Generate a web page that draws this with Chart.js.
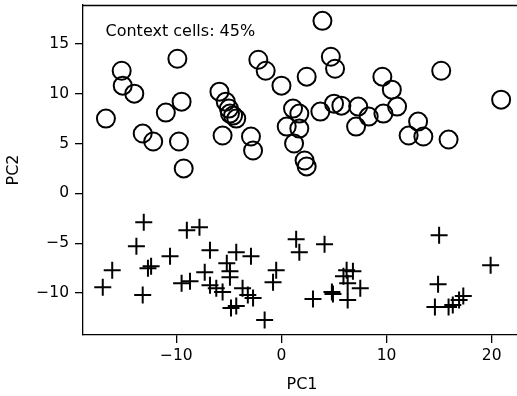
<!DOCTYPE html>
<html>
<head>
<meta charset="utf-8">
<script src="https://cdn.jsdelivr.net/npm/chart.js@4/dist/chart.umd.min.js"></script>
<style>
  html, body { margin: 0; padding: 0; background: #fff; overflow: hidden; }
  #wrap { width: 517px; height: 396px; overflow: hidden; }
</style>
</head>
<body>
<div id="wrap"><canvas id="pcaCanvas" width="522" height="396"></canvas></div>
<script>
// circles (upper cluster)
const circlePC1 = [-9.9, -15.2, -15.1, -14.0, -16.7, -13.2, -12.2, -11.0, -9.5, -9.75,
  -9.3, -5.9, -5.3, -5.0, -4.9, -4.6, -4.3, -5.6, -2.9, -2.7,
  -2.2, -1.5, 0.0, 1.1, 1.7, 0.5, 1.7, 1.2, 2.2, 2.4,
  2.4, 3.9, 4.7, 5.1, 15.2, 9.6, 10.5, 11.0, 20.9, 3.7,
  5.0, 5.7, 7.3, 8.3, 9.7, 7.1, 13.0, 12.1, 13.5, 15.9];
const circlePC2 = [13.5, 12.3, 10.8, 10.0, 7.5, 6.0, 5.2, 8.1, 9.2, 5.2,
  2.5, 10.2, 9.2, 8.5, 8.0, 7.8, 7.5, 5.8, 5.7, 4.3,
  13.4, 12.3, 10.8, 8.5, 8.0, 6.7, 6.5, 5.0, 3.3, 2.7,
  11.7, 17.3, 13.7, 12.5, 12.3, 11.7, 10.4, 8.7, 9.4, 8.2,
  9.0, 8.8, 8.7, 7.7, 8.0, 6.7, 7.2, 5.8, 5.7, 5.4];

// crosses (lower cluster)
const crossPC1 = [-13.1, -13.8, -16.1, -17.0, -13.2, -12.7, -12.4, -9.0, -7.8, -10.6,
  -6.8, -9.5, -8.7, -7.3, -6.8, -6.2, -5.6, -5.2, -4.9, -4.9,
  -4.3, -2.9, -3.7, -3.2, -2.7, -4.8, -4.3, -1.6, -0.5, -0.8,
  1.4, 1.7, 4.1, 3.0, 4.8, 4.9, 5.9, 6.2, 6.8, 6.3,
  6.3, 7.5, 15.0, 19.9, 14.9, 14.6, 15.9, 16.3, 16.9, 17.3];
const crossPC2 = [-2.9, -5.3, -7.7, -9.4, -10.2, -7.5, -7.3, -3.7, -3.4, -6.3,
  -5.7, -9.0, -8.8, -7.9, -9.2, -9.5, -9.9, -7.0, -7.8, -8.4,
  -5.9, -6.3, -9.5, -10.2, -10.5, -11.5, -11.3, -12.7, -7.7, -8.9,
  -4.6, -5.9, -5.1, -10.6, -9.9, -10.1, -8.3, -7.7, -7.8, -9.0,
  -10.7, -9.5, -4.2, -7.2, -9.1, -11.4, -11.4, -11.2, -10.7, -10.3];

const xTicks = [-10, 0, 10, 20];
const yTicks = [-10, -5, 0, 5, 10, 15];
const annotation = "Context cells: 45%";

function toPoints(xs, ys) {
  return xs.map((x, i) => ({ x: x, y: ys[i] }));
}

const minus = (v) => String(v).replace("-", "\u2212");

// no extra room for edge labels, the frame is placed by hand
function noPadding(s) {
  s.paddingLeft = 0;
  s.paddingRight = 0;
  s.paddingTop = 0;
  s.paddingBottom = 0;
}

// draws top/right spines and the text in the corner
const frame = {
  id: "frame",
  afterDraw(chart) {
    const ctx = chart.ctx;
    const a = chart.chartArea;
    ctx.save();
    ctx.strokeStyle = "#000";
    ctx.lineWidth = 1.3;
    ctx.beginPath();
    ctx.moveTo(a.left, a.top + 0.5);
    ctx.lineTo(a.right, a.top + 0.5);
    ctx.lineTo(a.right, a.bottom);
    ctx.stroke();
    ctx.fillStyle = "#000";
    ctx.font = "16px 'DejaVu Sans'";
    ctx.textBaseline = "alphabetic";
    ctx.fillText(annotation, 105.5, 35.5);
    ctx.restore();
  },
};

Chart.defaults.color = "#000";
Chart.defaults.font.family = "'DejaVu Sans', sans-serif";

const ctx = document.getElementById("pcaCanvas").getContext("2d");

new Chart(ctx, {
  type: "scatter",
  data: {
    datasets: [
      {
        label: "circles",
        data: toPoints(circlePC1, circlePC2),
        pointStyle: "circle",
        pointRadius: 9,
        borderColor: "#000",
        backgroundColor: "rgba(0,0,0,0)",
        borderWidth: 2,
      },
      {
        label: "crosses",
        data: toPoints(crossPC1, crossPC2),
        pointStyle: "cross",
        pointRadius: 8.5,
        borderColor: "#000",
        backgroundColor: "#000",
        borderWidth: 2,
      },
    ],
  },
  options: {
    responsive: false,
    animation: false,
    devicePixelRatio: 1,
    layout: { autoPadding: false, padding: { top: 5, right: 1, left: 0, bottom: 0 } },
    plugins: {
      legend: { display: false },
      tooltip: { enabled: false },
    },
    scales: {
      x: {
        type: "linear",
        min: -18.88,
        max: 22.79,
        afterFit: (s) => { s.height = 61; noPadding(s); },
        afterBuildTicks: (s) => { s.ticks = xTicks.map((v) => ({ value: v })); },
        grid: { display: true, drawOnChartArea: false, drawTicks: true, tickLength: 8, color: "#000", lineWidth: 1.3 },
        border: { display: true, color: "#000", width: 1.3 },
        ticks: { font: { size: 15.5 }, padding: 4, maxRotation: 0, callback: (v) => minus(v) },
        title: { display: true, text: "PC1", font: { size: 16 }, padding: { top: 0, bottom: 2 } },
      },
      y: {
        type: "linear",
        min: -14.2,
        max: 18.89,
        afterFit: (s) => { s.width = 83; noPadding(s); },
        afterBuildTicks: (s) => { s.ticks = yTicks.map((v) => ({ value: v })); },
        grid: { display: true, drawOnChartArea: false, drawTicks: true, tickLength: 8, color: "#000", lineWidth: 1.3 },
        border: { display: true, color: "#000", width: 1.3 },
        ticks: { font: { size: 15.5 }, padding: 6, callback: (v) => minus(v) },
        title: { display: true, text: "PC2", font: { size: 16 }, padding: { top: 4, bottom: 0 } },
      },
    },
  },
  plugins: [frame],
});
</script>
</body>
</html>
